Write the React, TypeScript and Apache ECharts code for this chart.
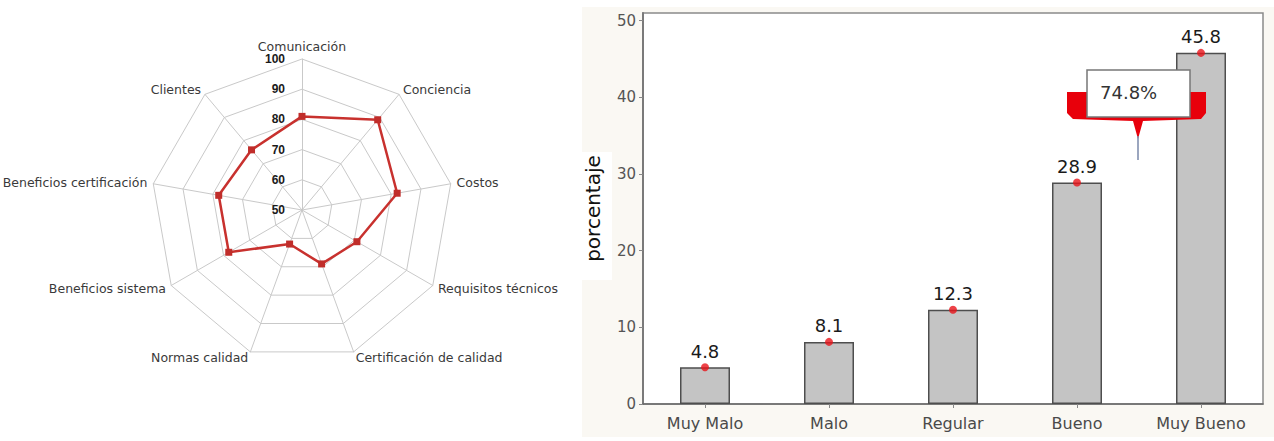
import React, { useEffect, useRef } from 'react';
import * as echarts from 'echarts';

// ---- Radar data (clockwise from the top, as in the picture) ----
const radarAxes = [
  'Comunicación',
  'Conciencia',
  'Costos',
  'Requisitos técnicos',
  'Certificación de calidad',
  'Normas calidad',
  'Beneficios sistema',
  'Beneficios certificación',
  'Clientes',
];
const radarValues = [81, 89, 82, 71, 69, 62, 78, 78, 76];
const radarMin = 50;
const radarMax = 100;

// ---- Bar data ----
const barCategories = ['Muy Malo', 'Malo', 'Regular', 'Bueno', 'Muy Bueno'];
const barValues = [4.8, 8.1, 12.3, 28.9, 45.8];
const yTicks = [0, 10, 20, 30, 40, 50];
const yAxisTitle = 'porcentaje';
const calloutText = '74.8%';

// ECharts places radar indicators counter-clockwise; reorder to draw clockwise.
const cwOrder = [0, ...radarAxes.map((_, i) => i).slice(1).reverse()];
const orderedAxes = cwOrder.map((i) => radarAxes[i]);
const orderedValues = cwOrder.map((i) => radarValues[i]);

export default function App() {
  const ref = useRef<HTMLDivElement>(null);

  useEffect(() => {
    if (!ref.current) return;
    const chart = echarts.init(ref.current, undefined, { renderer: 'svg' });

    const option: any = {
      animation: false,
      backgroundColor: '#ffffff',
      radar: {
        center: [302, 210],
        radius: 151,
        startAngle: 90,
        splitNumber: 5,
        shape: 'polygon',
        axisNameGap: 6,
        nameGap: 6,
        axisName: {
          color: '#3a3a3a',
          fontSize: 12.5,
          fontFamily: 'DejaVu Sans',
        },
        indicator: orderedAxes.map((name, i) => {
          const ind: any = { name, min: radarMin, max: radarMax };
          if (i === 0) {
            ind.axisLabel = {
              show: true,
              color: '#1a1a1a',
              fontWeight: 'bold',
              fontSize: 12,
              fontFamily: 'Liberation Sans',
              margin: 17,
              align: 'right',
            };
          }
          return ind;
        }),
        splitLine: { lineStyle: { color: '#c9c9c9', width: 1 } },
        splitArea: { show: false },
        axisLine: { lineStyle: { color: '#c9c9c9', width: 1 } },
        axisTick: { show: false },
        axisLabel: { show: false },
      },
      grid: {
        left: 643,
        right: 11,
        top: 13,
        bottom: 37,
        show: true,
        backgroundColor: '#ffffff',
        borderColor: '#8a8a8a',
        borderWidth: 1.5,
        z: 0,
      },
      xAxis: {
        type: 'category',
        data: barCategories,
        boundaryGap: true,
        axisLine: { lineStyle: { color: '#6a6a6a', width: 1.5 } },
        axisTick: { show: true, alignWithLabel: true, length: 4, lineStyle: { color: '#888' } },
        axisLabel: {
          color: '#4a4a4a',
          fontSize: 16,
          fontFamily: 'DejaVu Sans',
          margin: 11,
        },
      },
      yAxis: {
        type: 'value',
        min: 0,
        max: 51,
        name: yAxisTitle,
        nameLocation: 'middle',
        nameGap: 40,
        nameTextStyle: {
          color: '#111',
          fontSize: 20,
          fontFamily: 'DejaVu Sans',
        },
        splitLine: { show: false },
        axisLine: { show: true, lineStyle: { color: '#7a7a7a', width: 2 } },
        axisTick: {
          show: true,
          length: 4,
          customValues: yTicks,
          lineStyle: { color: '#888' },
        },
        axisLabel: {
          customValues: yTicks,
          color: '#555',
          fontSize: 15,
          fontFamily: 'DejaVu Sans',
          margin: 7,
        },
      },
      graphic: [
        {
          type: 'rect',
          z: -1,
          silent: true,
          shape: { x: 582, y: 7, width: 692, height: 430 },
          style: { fill: '#faf8f3' },
        },
        {
          type: 'rect',
          z: -1,
          silent: true,
          shape: { x: 575, y: 152, width: 37, height: 128 },
          style: { fill: '#ffffff' },
        },
        {
          type: 'polygon',
          z: 10,
          silent: true,
          shape: {
            points: [
              [1067, 92], [1206, 92], [1206, 113], [1201, 119], [1143, 121],
              [1138, 139], [1133, 121], [1073, 119], [1067, 113],
            ],
          },
          style: { fill: '#e8000b' },
        },
        {
          type: 'line',
          z: 10,
          silent: true,
          shape: { x1: 1138, y1: 136, x2: 1138, y2: 160 },
          style: { stroke: '#7a88aa', lineWidth: 1.5 },
        },
        {
          type: 'rect',
          z: 11,
          silent: true,
          shape: { x: 1087, y: 70, width: 103, height: 47 },
          style: { fill: '#ffffff', stroke: '#777777', lineWidth: 1.5 },
        },
        {
          type: 'text',
          z: 12,
          silent: true,
          x: 1100,
          y: 92,
          style: {
            text: calloutText,
            fill: '#333333',
            fontSize: 18,
            fontFamily: 'DejaVu Sans',
            verticalAlign: 'middle',
            align: 'left',
          },
        },
      ],
      series: [
        {
          type: 'radar',
          radarIndex: 0,
          symbol: 'rect',
          symbolSize: 7,
          lineStyle: { color: '#c8312e', width: 2.5 },
          itemStyle: { color: '#c02d2a' },
          data: [{ value: orderedValues, name: 'radar' }],
          z: 3,
        },
        {
          type: 'bar',
          data: barValues,
          barWidth: 50,
          itemStyle: { color: '#c4c4c4', borderColor: '#4e4e4e', borderWidth: 1.5 },
          label: {
            show: true,
            position: 'top',
            distance: 7,
            color: '#1a1a1a',
            fontSize: 18,
            fontFamily: 'DejaVu Sans',
          },
          z: 2,
        },
        {
          type: 'scatter',
          data: barValues,
          symbol: 'circle',
          symbolSize: 8,
          itemStyle: { color: '#e8141a' },
          z: 5,
        },
      ],
    };

    chart.setOption(option);
    return () => chart.dispose();
  }, []);

  return (
    <div
      ref={ref}
      style={{ position: 'fixed', left: 0, top: 0, width: 1274, height: 441 }}
    />
  );
}
